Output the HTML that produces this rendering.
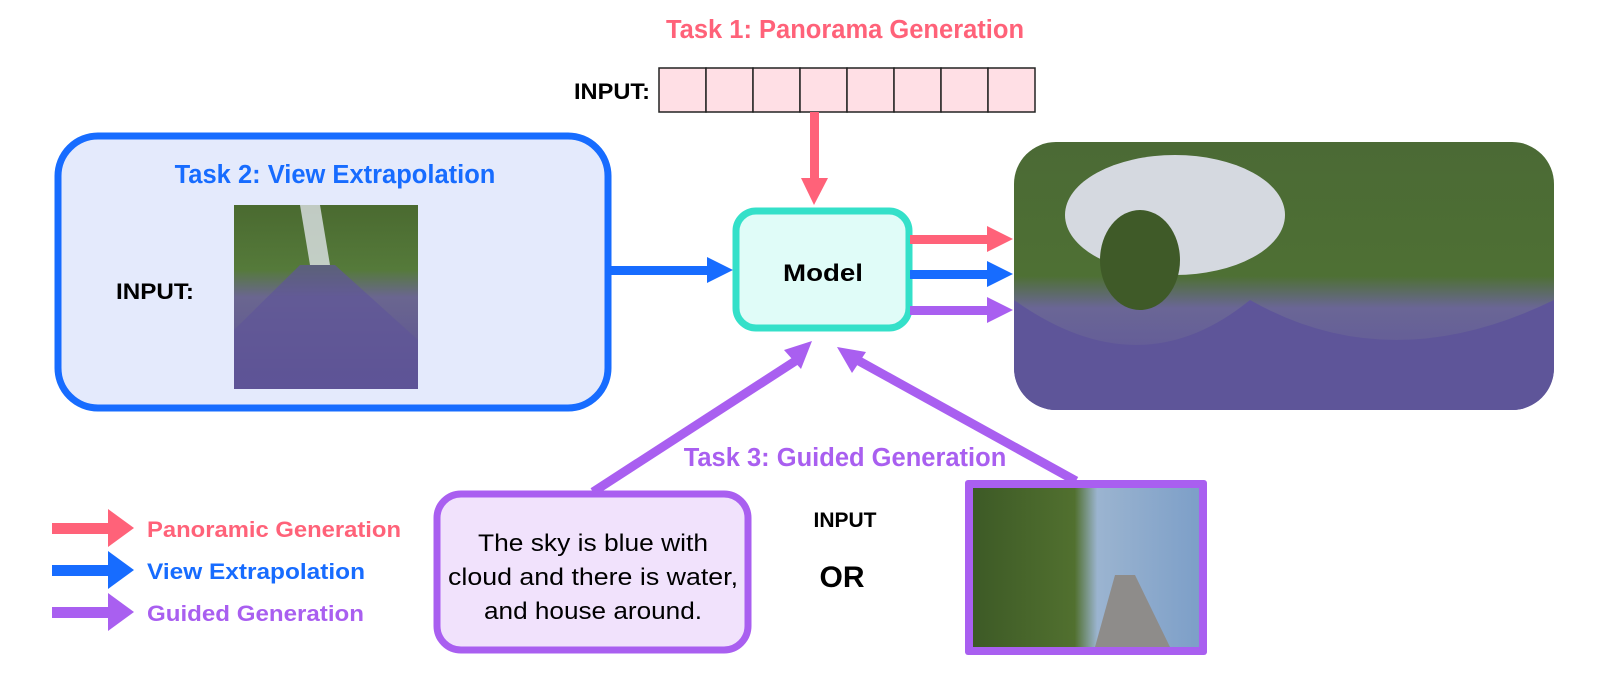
<!DOCTYPE html>
<html><head><meta charset="utf-8"><style>
html,body{margin:0;padding:0;background:#fff;width:1623px;height:682px;overflow:hidden}
svg text{font-family:"Liberation Sans",sans-serif;font-weight:bold}
</style></head><body>
<svg width="1623" height="682" viewBox="0 0 1623 682" xmlns="http://www.w3.org/2000/svg">
<defs>
<linearGradient id="road" x1="0" y1="0" x2="0" y2="1">
<stop offset="0" stop-color="#4a6a30"/><stop offset="0.35" stop-color="#557a3a"/><stop offset="0.5" stop-color="#6a6690"/><stop offset="1" stop-color="#5a4f93"/></linearGradient>
<linearGradient id="pano" x1="0" y1="0" x2="0" y2="1">
<stop offset="0" stop-color="#4b6a35"/><stop offset="0.5" stop-color="#4e7034"/><stop offset="0.62" stop-color="#6a6696"/><stop offset="1" stop-color="#5b509a"/></linearGradient>
<linearGradient id="gsky" x1="0" y1="0" x2="1" y2="0">
<stop offset="0" stop-color="#3d5a26"/><stop offset="0.45" stop-color="#51702f"/><stop offset="0.55" stop-color="#9bb4d0"/><stop offset="1" stop-color="#7d9fc8"/></linearGradient>
<clipPath id="pc"><rect x="1014" y="142" width="540" height="268" rx="42"/></clipPath>
</defs>

<!-- Task 1 -->
<text x="845" y="38" font-size="25.5" fill="#ff6279" text-anchor="middle">Task 1: Panorama Generation</text>
<text x="574" y="99" font-size="22" fill="#000" textLength="76" lengthAdjust="spacingAndGlyphs">INPUT:</text>
<g fill="#ffdfe5" stroke="#222" stroke-width="1.5">
<rect x="659" y="68" width="47" height="44"/><rect x="706" y="68" width="47" height="44"/>
<rect x="753" y="68" width="47" height="44"/><rect x="800" y="68" width="47" height="44"/>
<rect x="847" y="68" width="47" height="44"/><rect x="894" y="68" width="47" height="44"/>
<rect x="941" y="68" width="47" height="44"/><rect x="988" y="68" width="47" height="44"/>
</g>
<rect x="810" y="112" width="9" height="68" fill="#ff6279"/>
<polygon points="801,178 828,178 814,205" fill="#ff6279"/>

<!-- Task 2 box -->
<rect x="58" y="136" width="550" height="272" rx="40" fill="#e4eafc" stroke="#176cff" stroke-width="7"/>
<text x="335" y="183" font-size="25.5" fill="#176cff" text-anchor="middle">Task 2: View Extrapolation</text>
<text x="116" y="299" font-size="22" fill="#000" textLength="78" lengthAdjust="spacingAndGlyphs">INPUT:</text>
<rect x="234" y="205" width="184" height="184" fill="url(#road)"/>
<polygon points="300,205 320,205 330,265 310,265" fill="#dfe3e8" opacity="0.8"/>
<polygon points="300,265 335,265 418,340 418,389 234,389 234,330" fill="#5f5598" opacity="0.7"/>

<rect x="610" y="266" width="100" height="9" fill="#176cff"/>
<polygon points="707,257 733,270 707,283" fill="#176cff"/>

<!-- Model -->
<rect x="736" y="211" width="173" height="117" rx="20" fill="#e0fcf8" stroke="#34e0c9" stroke-width="7"/>
<text x="823" y="281" font-size="24" fill="#000" text-anchor="middle" textLength="80" lengthAdjust="spacingAndGlyphs">Model</text>

<!-- outputs -->
<rect x="910" y="235" width="80" height="9" fill="#ff6279"/><polygon points="987,226 1013,239 987,252" fill="#ff6279"/>
<rect x="910" y="270" width="80" height="9" fill="#176cff"/><polygon points="987,261 1013,274 987,287" fill="#176cff"/>
<rect x="910" y="306" width="80" height="9" fill="#a95ff0"/><polygon points="987,297 1013,310 987,323" fill="#a95ff0"/>

<!-- Pano -->
<g clip-path="url(#pc)">
<rect x="1014" y="142" width="540" height="268" fill="url(#pano)"/>
<ellipse cx="1175" cy="215" rx="110" ry="60" fill="#d5d9e0"/>
<ellipse cx="1140" cy="260" rx="40" ry="50" fill="#3f5a28"/>
<path d="M1014 300 Q1140 390 1250 300 Q1390 380 1554 300 L1554 410 L1014 410Z" fill="#5e5599"/>
</g>

<!-- Task 3 -->
<line x1="593" y1="492" x2="800" y2="358" stroke="#a95ff0" stroke-width="9"/>
<polygon points="812,341 784,350 801,369" fill="#a95ff0"/>
<line x1="1076" y1="481" x2="850" y2="356" stroke="#a95ff0" stroke-width="9"/>
<polygon points="837,347 866,352 852,373" fill="#a95ff0"/>
<text x="845" y="466" font-size="25.5" fill="#a95ff0" text-anchor="middle">Task 3: Guided Generation</text>

<rect x="437" y="494" width="311" height="156" rx="24" fill="#f1e2fc" stroke="#a95ff0" stroke-width="7"/>
<text x="593" y="551" font-size="24" fill="#000" text-anchor="middle" style="font-weight:normal" textLength="230" lengthAdjust="spacingAndGlyphs">The sky is blue with</text>
<text x="593" y="585" font-size="24" fill="#000" text-anchor="middle" style="font-weight:normal" textLength="290" lengthAdjust="spacingAndGlyphs">cloud and there is water,</text>
<text x="593" y="619" font-size="24" fill="#000" text-anchor="middle" style="font-weight:normal" textLength="218" lengthAdjust="spacingAndGlyphs">and house around.</text>
<text x="845" y="527" font-size="21" fill="#000" text-anchor="middle">INPUT</text>
<text x="842" y="587" font-size="30" fill="#000" text-anchor="middle">OR</text>

<rect x="965" y="480" width="242" height="175" rx="3" fill="#a95ff0"/>
<rect x="973" y="488" width="226" height="159" fill="url(#gsky)"/>
<polygon points="1095,647 1115,575 1135,575 1170,647" fill="#8e8c8a"/>

<!-- legend -->
<rect x="52" y="523" width="60" height="11" fill="#ff6279"/><polygon points="108,509 134,528 108,547" fill="#ff6279"/>
<rect x="52" y="565" width="60" height="11" fill="#176cff"/><polygon points="108,551 134,570 108,589" fill="#176cff"/>
<rect x="52" y="607" width="60" height="11" fill="#a95ff0"/><polygon points="108,593 134,612 108,631" fill="#a95ff0"/>
<text x="147" y="537" font-size="22" fill="#ff6279" textLength="254" lengthAdjust="spacingAndGlyphs">Panoramic Generation</text>
<text x="147" y="579" font-size="22" fill="#176cff" textLength="218" lengthAdjust="spacingAndGlyphs">View Extrapolation</text>
<text x="147" y="621" font-size="22" fill="#a95ff0" textLength="217" lengthAdjust="spacingAndGlyphs">Guided Generation</text>
</svg>
</body></html>
